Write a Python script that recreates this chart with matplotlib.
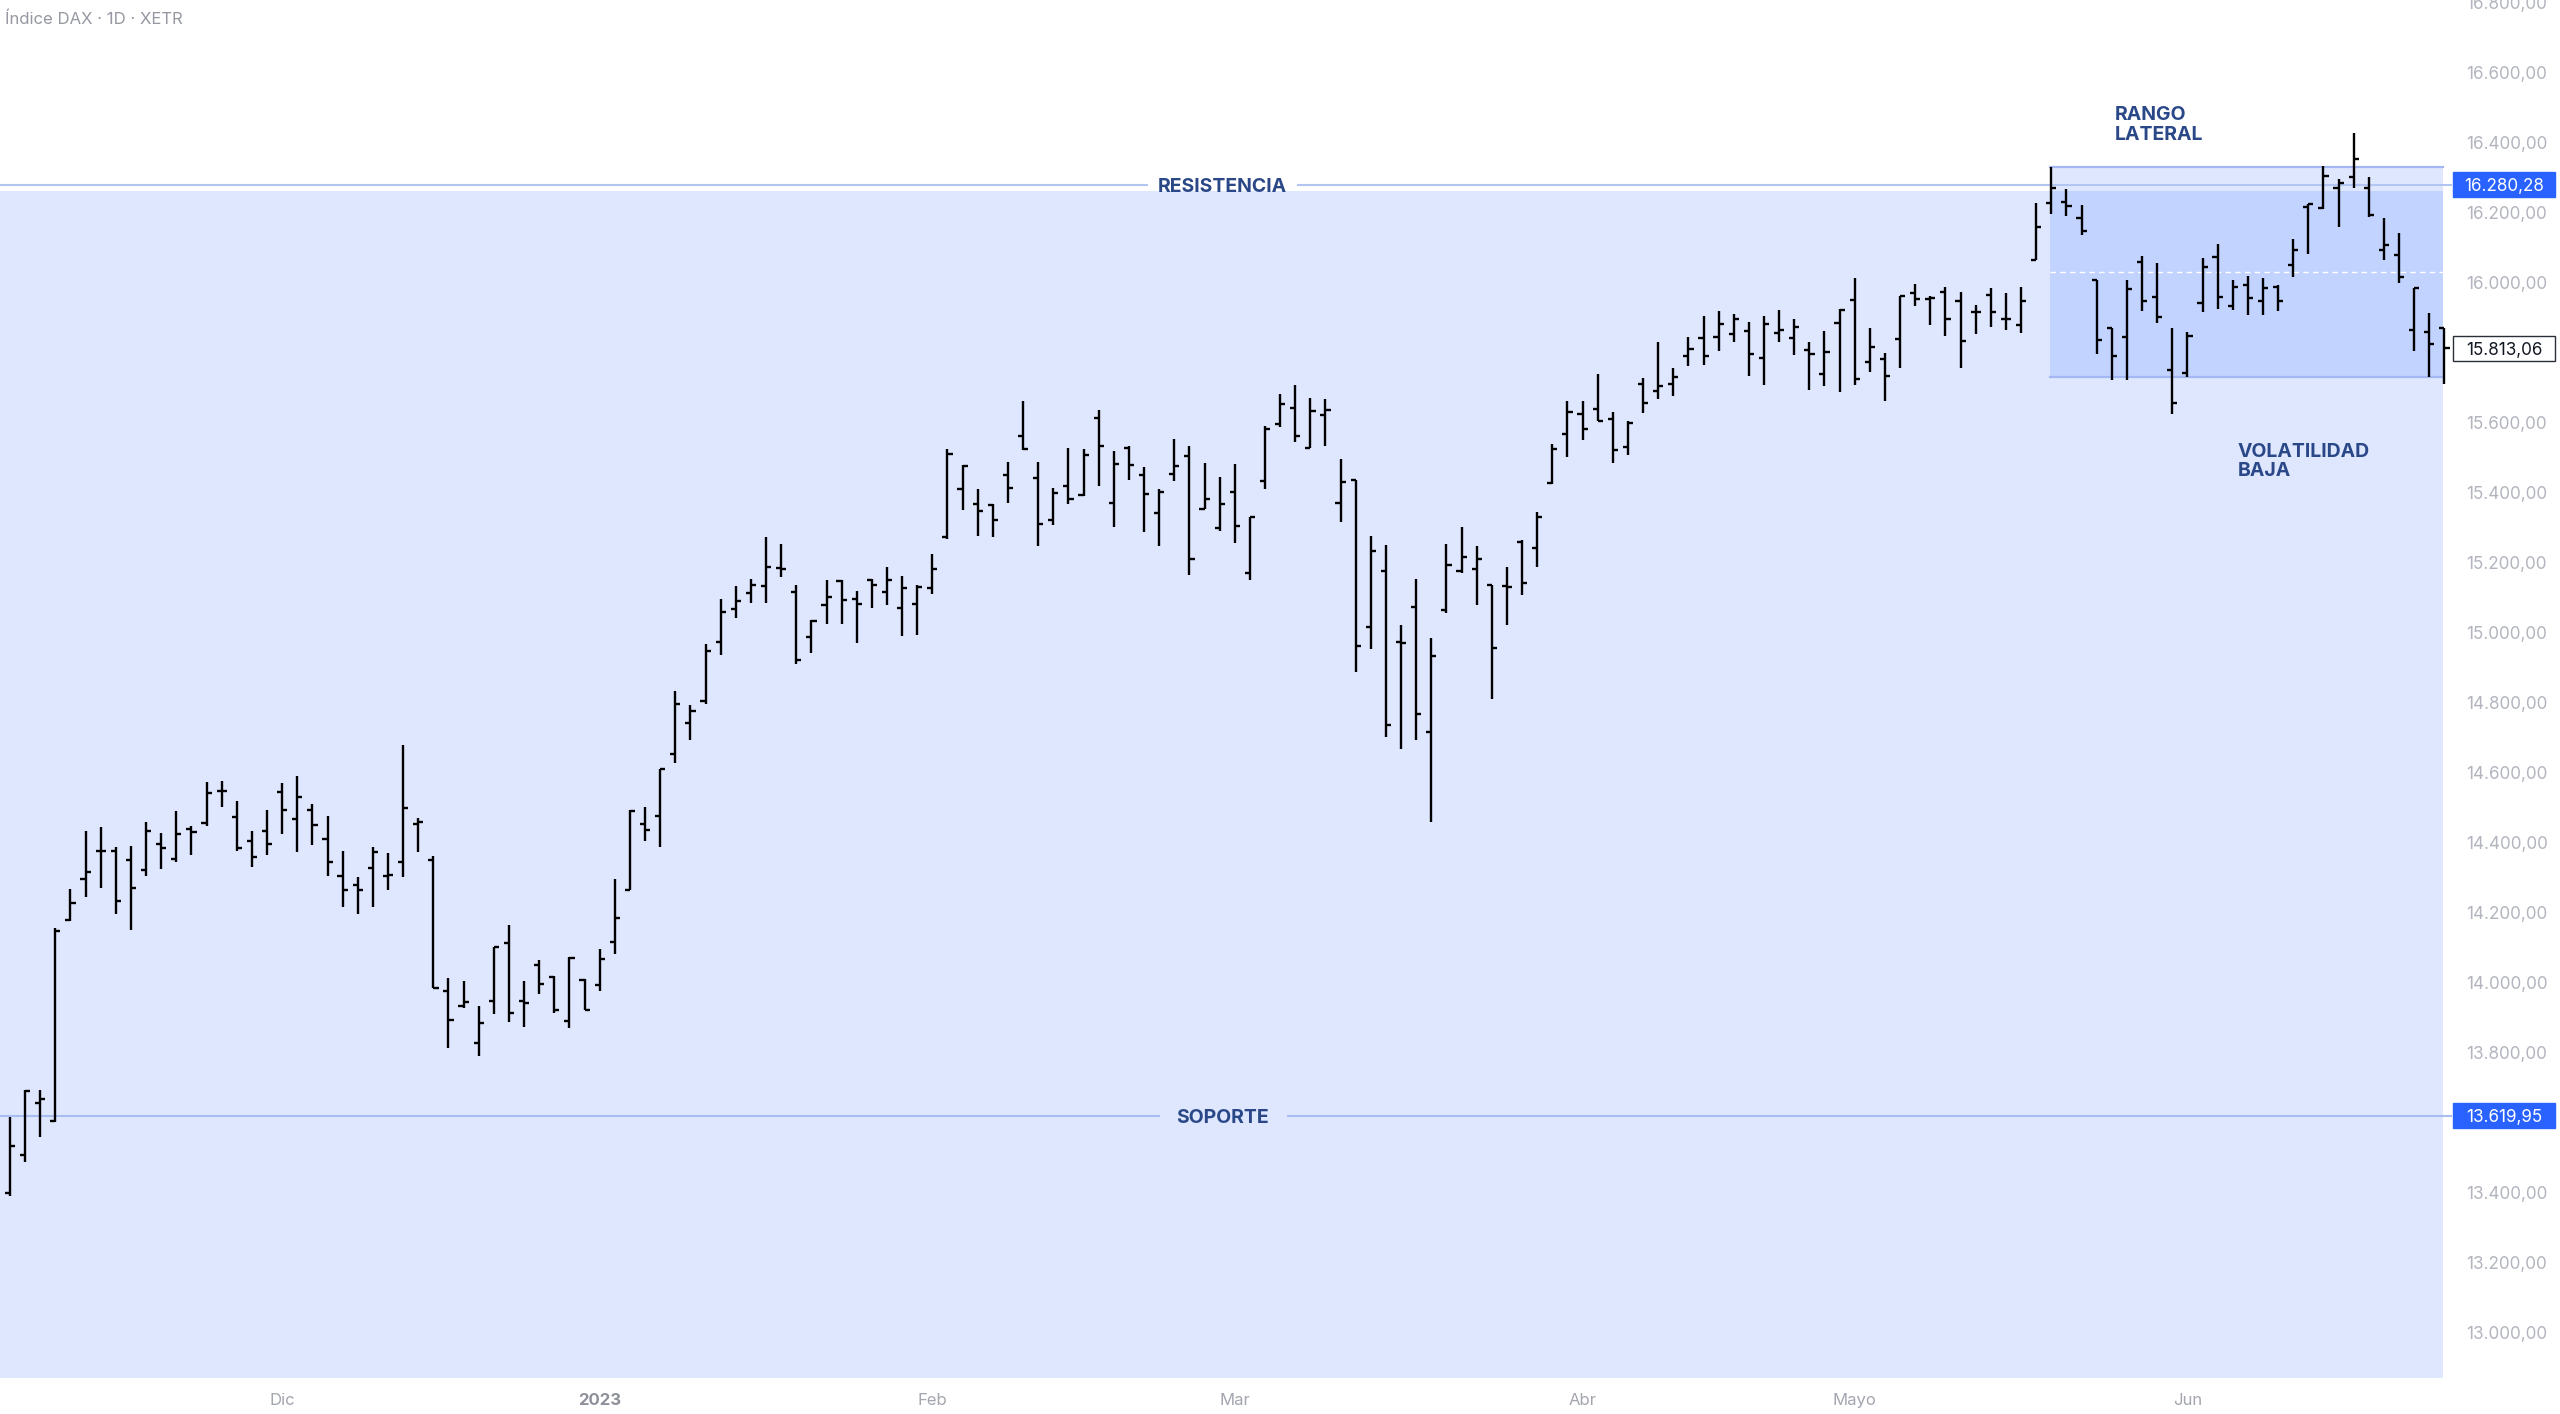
import matplotlib
matplotlib.use("Agg")
import matplotlib.pyplot as plt
from matplotlib.patches import Rectangle
from matplotlib.transforms import blended_transform_factory

# Daily OHLC bars (Xetra trading days, early Nov 2022 -> 26 Jun 2023)
opens = [
    13399, 13508, 13656, 13604, 14180, 14298, 14376, 14376, 14351, 14322,
    14398, 14354, 14439, 14458, 14549, 14473, 14406, 14433, 14546, 14468,
    14494, 14411, 14306, 14279, 14327, 14306, 14346, 14454, 14351, 13977,
    13934, 13829, 13947, 14113, 13947, 14051, 14018, 13891, 14008, 13994,
    14118, 14266, 14453, 14478, 14653, 14743, 14805, 14975, 15067, 15115,
    15134, 15186, 15117, 14988, 15079, 15148, 15098, 15150, 15117, 15072,
    15081, 15129, 15274, 15410, 15369, 15364, 15451, 15562, 15441, 15321,
    15419, 15393, 15614, 15372, 15529, 15450, 15343, 15454, 15505, 15355,
    15300, 15402, 15171, 15433, 15597, 15641, 15529, 15621, 15371, 15438,
    15017, 15178, 14973, 15074, 14716, 15064, 15178, 15181, 15138, 15133,
    15259, 15243, 15429, 15569, 15626, 15640, 15612, 15530, 15711, 15690,
    15711, 15792, 15842, 15844, 15853, 15863, 15785, 15856, 15842, 15807,
    15740, 15885, 15951, 15775, 15783, 15839, 15970, 15954, 15975, 15949,
    15918, 15966, 15896, 15879, 16065, 16229, 16231, 16184, 16008, 15870,
    15846, 16060, 15960, 15752, 15741, 15943, 16074, 15933, 15993, 15949,
    15989, 16050, 16217, 16214, 16272, 16301, 16270, 16095, 16079, 15865,
    15860, 15870,
]
highs = [
    13616, 13694, 13694, 14158, 14268, 14435, 14444, 14387, 14390, 14460,
    14427, 14490, 14449, 14574, 14577, 14520, 14435, 14494, 14570, 14590,
    14511, 14477, 14376, 14303, 14389, 14371, 14680, 14470, 14363, 14013,
    14004, 13934, 14101, 14164, 14004, 14066, 14020, 14075, 14010, 14097,
    14296, 14494, 14503, 14611, 14834, 14794, 14969, 15098, 15134, 15155,
    15274, 15254, 15136, 15037, 15151, 15150, 15119, 15153, 15189, 15162,
    15138, 15226, 15524, 15479, 15412, 15367, 15489, 15662, 15489, 15414,
    15529, 15524, 15636, 15519, 15533, 15473, 15410, 15555, 15533, 15484,
    15445, 15481, 15330, 15592, 15683, 15709, 15671, 15668, 15498, 15438,
    15276, 15250, 15022, 15155, 14984, 15255, 15302, 15248, 15138, 15189,
    15264, 15345, 15540, 15662, 15663, 15740, 15630, 15606, 15728, 15830,
    15758, 15845, 15906, 15920, 15911, 15888, 15904, 15921, 15896, 15830,
    15861, 15925, 16013, 15871, 15799, 15963, 15997, 15963, 15987, 15973,
    15937, 15985, 15972, 15989, 16227, 16330, 16267, 16222, 16008, 15870,
    16008, 16077, 16057, 15870, 15860, 16070, 16112, 16008, 16019, 16015,
    15993, 16124, 16225, 16333, 16298, 16427, 16301, 16184, 16143, 15984,
    15914, 15870,
]
lows = [
    13392, 13489, 13559, 13602, 14176, 14246, 14270, 14198, 14151, 14304,
    14324, 14346, 14366, 14449, 14501, 14377, 14330, 14366, 14425, 14375,
    14395, 14306, 14218, 14198, 14218, 14265, 14301, 14375, 13985, 13813,
    13929, 13790, 13910, 13889, 13875, 13967, 13913, 13870, 13923, 13977,
    14082, 14266, 14404, 14389, 14627, 14694, 14798, 14936, 15043, 15086,
    15086, 15159, 14910, 14943, 15024, 15024, 14972, 15070, 15079, 14991,
    14995, 15110, 15267, 15350, 15278, 15274, 15372, 15521, 15248, 15308,
    15367, 15391, 15419, 15302, 15438, 15289, 15248, 15435, 15165, 15355,
    15291, 15257, 15152, 15411, 15588, 15546, 15527, 15535, 15317, 14889,
    14954, 14703, 14667, 14695, 14460, 15057, 15170, 15079, 14812, 15022,
    15107, 15188, 15426, 15502, 15552, 15604, 15485, 15509, 15628, 15669,
    15677, 15761, 15764, 15804, 15830, 15734, 15709, 15832, 15794, 15694,
    15706, 15687, 15709, 15745, 15663, 15756, 15935, 15880, 15849, 15756,
    15853, 15873, 15864, 15858, 16065, 16198, 16190, 16138, 15798, 15722,
    15722, 15919, 15886, 15624, 15731, 15917, 15924, 15922, 15908, 15908,
    15920, 16017, 16082, 16212, 16160, 16272, 16187, 16065, 16000, 15806,
    15731, 15710,
]
closes = [
    13535, 13690, 13668, 14149, 14227, 14316, 14377, 14235, 14270, 14435,
    14384, 14425, 14430, 14541, 14547, 14384, 14360, 14398, 14495, 14532,
    14451, 14346, 14265, 14266, 14373, 14309, 14499, 14459, 13985, 13894,
    13945, 13885, 14101, 13915, 13942, 13997, 13923, 14072, 13923, 14068,
    14185, 14492, 14437, 14611, 14796, 14777, 14948, 15059, 15091, 15136,
    15189, 15183, 14921, 15035, 15103, 15095, 15083, 15138, 15150, 15127,
    15131, 15181, 15511, 15476, 15348, 15321, 15414, 15524, 15310, 15400,
    15381, 15507, 15535, 15483, 15479, 15398, 15402, 15478, 15212, 15383,
    15367, 15305, 15330, 15581, 15654, 15562, 15633, 15636, 15430, 14962,
    15235, 14738, 14970, 14769, 14935, 15195, 15217, 15211, 14957, 15132,
    15143, 15330, 15526, 15630, 15582, 15606, 15523, 15599, 15656, 15704,
    15731, 15811, 15792, 15882, 15897, 15796, 15882, 15866, 15873, 15796,
    15801, 15923, 15726, 15816, 15735, 15961, 15954, 15956, 15896, 15835,
    15918, 15918, 15896, 15948, 16160, 16271, 16219, 16148, 15838, 15790,
    15981, 15949, 15903, 15657, 15848, 16046, 15960, 15989, 15958, 15984,
    15949, 16093, 16225, 16305, 16286, 16353, 16195, 16108, 16017, 15984,
    15824, 15813.06,
]

month_pos = [18, 39, 61, 81, 104, 122, 144]
month_labels = ["Dic", "2023", "Feb", "Mar", "Abr", "Mayo", "Jun"]
price_ticks = [13000, 13200, 13400, 13800, 14000, 14200, 14400, 14600, 14800,
               15000, 15200, 15400, 15600, 16000, 16200, 16400, 16600, 16800]

resistencia = 16280.28
soporte = 13619.95
rango_top = 16330
rango_bottom = 15731
rango_start = 134.9
last_price = closes[-1]

NAVY = "#2a4888"
BLUE = "#2962ff"

plt.rcParams["font.family"] = ["Inter", "DejaVu Sans"]

fig = plt.figure(figsize=(25.6, 14.14), dpi=100)
ax = fig.add_axes([0, 36 / 1414, 2452 / 2560, 1378 / 1414])
ax.set_xlim(-0.66, 161.5)
ax.set_ylim(12871, 16808)
for s in ax.spines.values():
    s.set_visible(False)

x0, x1 = ax.get_xlim()
fill_end = 160.9

# background zone below the resistance + lateral range box
ax.add_patch(Rectangle((x0, 12871), fill_end - x0, 16262 - 12871,
                       facecolor=BLUE, alpha=0.15, lw=0, zorder=0))
ax.add_patch(Rectangle((rango_start, rango_bottom), fill_end - rango_start,
                       rango_top - rango_bottom,
                       facecolor=BLUE, alpha=0.15, lw=0, zorder=1))
for yy in (rango_top, rango_bottom):
    ax.plot([rango_start, fill_end], [yy, yy], color="#a3b8f3", lw=1.6, zorder=1.5)
ax.plot([rango_start, fill_end], [(rango_top + rango_bottom) / 2] * 2,
        color="white", lw=1.0, ls=(0, (4, 3)), zorder=1.6)

# support / resistance lines with a gap for the label
ax.plot([x0, 75.2], [resistencia] * 2, color="#b3c5f2", lw=1.5, zorder=2)
ax.plot([85.2, x1], [resistencia] * 2, color="#b3c5f2", lw=1.5, zorder=2)
ax.plot([x0, 76.0], [soporte] * 2, color="#a9bdf0", lw=1.5, zorder=2)
ax.plot([84.5, x1], [soporte] * 2, color="#a9bdf0", lw=1.5, zorder=2)
ax.text(80.2, resistencia, "RESISTENCIA", ha="center", va="center_baseline",
        fontsize=14, fontweight="bold", color=NAVY, zorder=4)
ax.text(80.2, soporte, "SOPORTE", ha="center", va="center_baseline",
        fontsize=14, fontweight="bold", color=NAVY, zorder=4)

# OHLC bars
xs = list(range(len(closes)))
ax.vlines(xs, lows, highs, color="black", lw=1.7, zorder=3)
ax.hlines(opens, [x - 0.34 for x in xs], xs, color="black", lw=1.7, zorder=3)
ax.hlines(closes, xs, [x + 0.34 for x in xs], color="black", lw=1.7, zorder=3)

ax.text(139.2, 16505, "RANGO\nLATERAL", ha="left", va="top", fontsize=14,
        fontweight="bold", color=NAVY, linespacing=1.12, zorder=4)
ax.text(147.3, 15543, "VOLATILIDAD\nBAJA", ha="left", va="top", fontsize=14,
        fontweight="bold", color=NAVY, linespacing=1.12, zorder=4)


def fmt(v):
    return f"{v:,.2f}".replace(",", "X").replace(".", ",").replace("X", ".")


# price scale on the right
ax.set_yticks(price_ticks)
ax.set_yticklabels([fmt(v) for v in price_ticks])
ax.yaxis.tick_right()
ax.tick_params(axis="y", length=0, pad=10, labelsize=12.3, labelcolor="#b2b5be")

ax.set_xticks(month_pos)
ax.set_xticklabels(month_labels)
ax.tick_params(axis="x", length=0, pad=10.5, labelsize=12, labelcolor="#a3a6af")
for lab in ax.get_xticklabels():
    if lab.get_text() == "2023":
        lab.set_fontweight("bold")
        lab.set_color("#8d9099")

# price labels on the scale
trans = blended_transform_factory(ax.transAxes, ax.transData)
box_w = 102 / 2452
box_h = 25 / 1378 * (16808 - 12871)
for val, face, edge, txt_col in [
    (resistencia, BLUE, BLUE, "white"),
    (soporte, BLUE, BLUE, "white"),
    (last_price, "white", "#2a2e39", "#131722"),
]:
    ax.add_patch(Rectangle((1.0005, val - box_h / 2), box_w, box_h, transform=trans,
                           facecolor=face, edgecolor=edge, lw=1, clip_on=False,
                           zorder=5))
    ax.text(1.0005 + box_w / 2, val, fmt(val), transform=trans, ha="center",
            va="center_baseline", fontsize=12.3, color=txt_col, zorder=6,
            clip_on=False)

fig.text(5 / 2560, 1 - 19 / 1414, "Índice DAX · 1D · XETR", ha="left", va="center",
         fontsize=12, color="#9598a1")

fig.savefig("out.png", dpi=100, facecolor="white")
